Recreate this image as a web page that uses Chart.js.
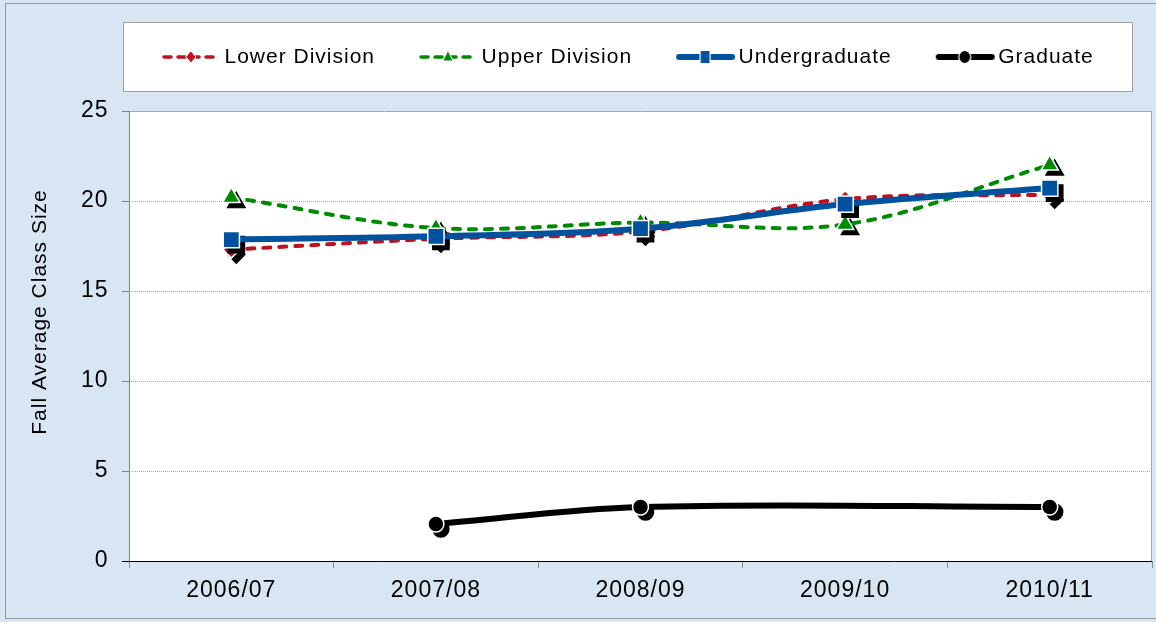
<!DOCTYPE html>
<html><head><meta charset="utf-8">
<script src="https://cdn.jsdelivr.net/npm/chart.js@4.4.1/dist/chart.umd.min.js"></script>
<style>
html,body{margin:0;padding:0;background:#d8e5f3;overflow:hidden;}
canvas{display:block;}
</style>
</head><body>
<canvas id="c" width="1156" height="622" style="width:1156px;height:622px"></canvas>
<script>
// ---- data ----
const categories = ['2006/07', '2007/08', '2008/09', '2009/10', '2010/11'];
const seriesNames = ['Lower Division', 'Upper Division', 'Undergraduate', 'Graduate'];
const lowerDivision = [17.3, 17.9, 18.3, 20.1, 20.35];
const upperDivision = [20.2, 18.5, 18.8, 18.7, 22.0];
const undergraduate = [17.86, 18.04, 18.46, 19.83, 20.72];
const graduate = [null, 2.05, 3.0, null, 3.0];
const yTickValues = [0, 5, 10, 15, 20, 25];
const yAxisTitle = 'Fall Average Class Size';

// ---- styles ----
const FONT = "'Liberation Sans', Arial, sans-serif";
const LETTER_SPACING = '1px';
const RED = '#C0111E', GREEN = '#008A00', BLUE = '#00529E', BLACK = '#000000';
const LEGEND_HEIGHT = 111;
const LEGEND_BOX = {x0: 123.5, y0: 22.5, x1: 1132.5, y1: 91.5};
const LEGEND_FIRST_X = 170;
const LEGEND_TEXT_MID_Y = 57;
const Y_TITLE_SHIFT = -24;

function makeIcon(kind) {
  const cv = document.createElement('canvas');
  cv.width = 62; cv.height = 20;
  const c = cv.getContext('2d');
  const cy = 10;
  if (kind === 0 || kind === 1) {
    c.strokeStyle = kind === 0 ? RED : GREEN;
    c.lineWidth = 3.5;
    c.lineCap = 'round';
    c.setLineDash([7, 7]);
    c.beginPath(); c.moveTo(3, cy); c.lineTo(58, cy); c.stroke();
    c.setLineDash([]);
    c.fillStyle = kind === 0 ? RED : GREEN;
    c.strokeStyle = '#fff'; c.lineWidth = 1;
    c.beginPath();
    if (kind === 0) {
      c.moveTo(30, cy - 6); c.lineTo(35, cy); c.lineTo(30, cy + 6); c.lineTo(25, cy);
    } else {
      c.moveTo(30, cy - 6.5); c.lineTo(35, cy + 4); c.lineTo(25, cy + 4);
    }
    c.closePath(); c.fill(); c.stroke();
  } else {
    c.strokeStyle = kind === 2 ? BLUE : BLACK;
    c.lineWidth = 6;
    c.lineCap = 'round';
    c.beginPath(); c.moveTo(4, cy); c.lineTo(57, cy); c.stroke();
    c.fillStyle = kind === 2 ? BLUE : BLACK;
    c.strokeStyle = '#fff'; c.lineWidth = 1.2;
    c.beginPath();
    if (kind === 2) { c.rect(25, cy - 6.5, 10, 13); }
    else { c.ellipse(30, cy, 6, 6.5, 0, 0, Math.PI * 2); }
    c.fill(); c.stroke();
  }
  return cv;
}
const legendIcons = [0, 1, 2, 3].map(makeIcon);

const layoutPlugin = {
  id: 'layoutTweaks',
  beforeUpdate(chart) { chart.ctx.letterSpacing = LETTER_SPACING; },
  beforeLayout(chart) {
    chart.ctx.letterSpacing = LETTER_SPACING;
    const lg = chart.legend;
    if (lg && !lg.__patched) {
      const fit = lg.fit;
      lg.fit = function () { this.maxWidth = 5000; fit.call(this); this.height = LEGEND_HEIGHT; };
      lg.__patched = true;
    }
  },
  afterLayout(chart) {
    const lg = chart.legend;
    if (lg && lg.lineWidths) {
      const p = lg.options.labels.padding;
      const L = lg.lineWidths[0];
      const fs = lg.options.labels.font.size;
      const right = Math.max(lg.right, LEGEND_FIRST_X + L + 2);
      const left = 2 * LEGEND_FIRST_X - p - right + L;
      lg.left = left; lg.right = right; lg.width = right - left;
      lg.top = LEGEND_TEXT_MID_Y - fs / 2 - p;
      lg.bottom = lg.top + lg.height;
    }
    const ys = chart.scales.y;
    if (ys && !ys.__patched) {
      const dt = ys.drawTitle;
      ys.drawTitle = function () {
        const c = this.ctx; c.save(); c.translate(0, Y_TITLE_SHIFT); dt.apply(this, arguments); c.restore();
      };
      ys.__patched = true;
    }
  },
  beforeDraw(chart) {
    const c = chart.ctx, a = chart.chartArea;
    c.save();
    c.strokeStyle = '#9A9A9A'; c.lineWidth = 1;
    c.strokeRect(5.5, 3.5, 1160, 615);
    c.fillStyle = '#ffffff';
    c.fillRect(a.left, a.top, a.right - a.left, a.bottom - a.top);
    c.fillRect(LEGEND_BOX.x0, LEGEND_BOX.y0, LEGEND_BOX.x1 - LEGEND_BOX.x0, LEGEND_BOX.y1 - LEGEND_BOX.y0);
    c.strokeStyle = '#A0A0A0';
    c.strokeRect(LEGEND_BOX.x0, LEGEND_BOX.y0, LEGEND_BOX.x1 - LEGEND_BOX.x0, LEGEND_BOX.y1 - LEGEND_BOX.y0);
    c.restore();
    c.letterSpacing = LETTER_SPACING;
  },
  beforeDatasetsDraw(chart) {
    const c = chart.ctx, a = chart.chartArea;
    c.save();
    c.lineWidth = 1;
    c.strokeStyle = '#A6A6A6';
    c.beginPath();
    c.moveTo(a.left, a.top + 0.5); c.lineTo(a.right - 0.5, a.top + 0.5); c.lineTo(a.right - 0.5, a.bottom);
    c.stroke();
    c.strokeStyle = '#7F7F7F';
    c.beginPath(); c.moveTo(a.left + 0.5, a.top); c.lineTo(a.left + 0.5, a.bottom); c.stroke();
    c.strokeStyle = '#000000';
    c.beginPath(); c.moveTo(a.left - 7, a.bottom + 0.5); c.lineTo(a.right, a.bottom + 0.5); c.stroke();
    c.restore();
  }
};

const shadowPlugin = {
  id: 'markerShadow',
  beforeDatasetDraw(chart, args) {
    const ctx = chart.ctx;
    ctx.save();
    ctx.fillStyle = '#000'; ctx.strokeStyle = '#000';
    args.meta.data.forEach(el => {
      if (el.skip) return;
      const o = el.options;
      ctx.lineWidth = o.borderWidth;
      Chart.helpers.drawPoint(ctx, {pointStyle: o.pointStyle, rotation: o.rotation || 0, radius: o.radius, borderWidth: o.borderWidth}, el.x + 5, el.y + 5);
    });
    ctx.restore();
  }
};

const common = {tension: 0.35, pointBorderColor: '#ffffff', pointBorderWidth: 1.5, fill: false};

new Chart(document.getElementById('c'), {
  type: 'line',
  data: {
    labels: categories,
    datasets: [
      Object.assign({}, common, {label: seriesNames[0], data: lowerDivision, borderColor: RED, backgroundColor: RED, pointBackgroundColor: RED,
        borderWidth: 4, borderDash: [7, 9], borderCapStyle: 'round', pointStyle: 'rectRot', pointRadius: 8.5, order: 4}),
      Object.assign({}, common, {label: seriesNames[1], data: upperDivision, borderColor: GREEN, backgroundColor: GREEN, pointBackgroundColor: GREEN,
        borderWidth: 4, borderDash: [7, 9], borderCapStyle: 'round', pointStyle: 'triangle', pointRadius: 10, order: 3}),
      Object.assign({}, common, {label: seriesNames[2], data: undergraduate, borderColor: BLUE, backgroundColor: BLUE, pointBackgroundColor: BLUE,
        borderWidth: 6, pointStyle: 'rect', pointRadius: 11.5, order: 2}),
      Object.assign({}, common, {label: seriesNames[3], data: graduate, borderColor: BLACK, backgroundColor: BLACK, pointBackgroundColor: BLACK,
        borderWidth: 6, pointStyle: 'circle', pointRadius: 8, spanGaps: true, order: 1})
    ]
  },
  options: {
    responsive: false,
    animation: false,
    events: [],
    layout: {autoPadding: false, padding: {top: 0, right: 4, bottom: 0, left: 0}},
    plugins: {
      tooltip: {enabled: false},
      legend: {
        position: 'top',
        fullSize: false,
        labels: {
          usePointStyle: true,
          pointStyleWidth: 44,
          padding: 52,
          color: '#000',
          font: {family: FONT, size: 21},
          generateLabels: chart => chart.data.datasets.map((ds, i) => ({
            text: ds.label, pointStyle: legendIcons[i], datasetIndex: i, hidden: false,
            fillStyle: 'rgba(0,0,0,0)', strokeStyle: 'rgba(0,0,0,0)', lineWidth: 0, fontColor: '#000'
          }))
        }
      }
    },
    scales: {
      x: {
        type: 'category',
        offset: true,
        border: {display: false},
        grid: {display: true, offset: true, drawOnChartArea: false, drawTicks: true, tickLength: 7, tickColor: '#8C8C8C', color: '#8C8C8C'},
        ticks: {color: '#000', font: {family: FONT, size: 23}, padding: 9, maxRotation: 0, autoSkip: false},
        afterFit(scale) { scale.height = 61; scale.paddingLeft = 0; scale.paddingRight = 0; }
      },
      y: {
        min: 0, max: 25,
        border: {display: false, dash: [1, 1]},
        grid: {color: '#A8A8A8', lineWidth: 1, tickLength: 7, tickColor: '#7F7F7F', drawTicks: true},
        ticks: {color: '#000', font: {family: FONT, size: 23}, padding: 13.5, stepSize: 5},
        afterBuildTicks(scale) { scale.ticks = yTickValues.map(v => ({value: v})); },
        title: {display: true, text: yAxisTitle, color: '#000', font: {family: FONT, size: 21}, padding: {top: 28, bottom: 0}},
        afterFit(scale) { scale.width = 129; }
      }
    }
  },
  plugins: [layoutPlugin, shadowPlugin]
});
</script>
</body></html>
